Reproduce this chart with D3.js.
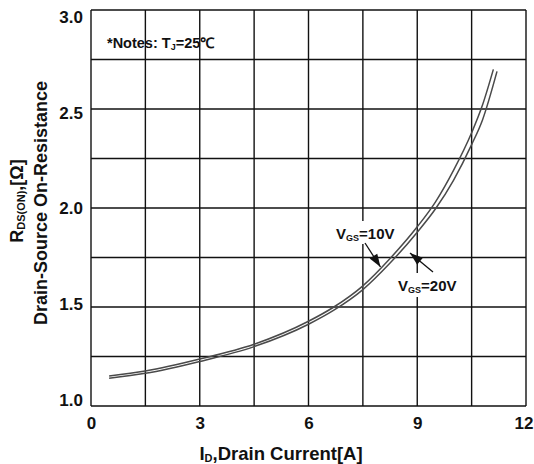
<!DOCTYPE html>
<html><head><meta charset="utf-8">
<script src="https://cdn.jsdelivr.net/npm/d3@7"></script>
<style>
body{margin:0;background:#fff}
svg{display:block}
text{font-family:"Liberation Sans",Arial,Helvetica,sans-serif;font-weight:bold;fill:#111}
</style>
</head><body>
<svg id="c" width="534" height="464"></svg>
<script>
// ---- data ----
const current10 = [0.5, 1.5, 3, 4.5, 6, 6.7, 7.5, 8.25, 9, 9.5, 10, 10.5, 10.8, 11.1];
const rds10     = [1.152, 1.177, 1.237, 1.312, 1.428, 1.5, 1.607, 1.745, 1.905, 2.03, 2.19, 2.38, 2.52, 2.70];
const current20 = [0.5, 1.5, 3, 4.5, 6, 6.7, 7.5, 8.25, 9, 9.5, 10, 10.5, 10.8, 11.2];
const rds20     = [1.140, 1.165, 1.225, 1.300, 1.413, 1.484, 1.588, 1.722, 1.878, 1.995, 2.14, 2.32, 2.445, 2.69];
const xTicks = [0, 3, 6, 9, 12];
const yTicks = [1.0, 1.5, 2.0, 2.5, 3.0];
const xGrid = [0, 1.5, 3, 4.5, 6, 7.5, 9, 10.5, 12];
const yGrid = [1.0, 1.25, 1.5, 1.75, 2.0, 2.25, 2.5, 2.75, 3.0];

const svg = d3.select('#c');
const L = 91, R = 526, T = 10, B = 406;
const x = d3.scaleLinear().domain([0, 12]).range([L, R]);
const y = d3.scaleLinear().domain([1, 3]).range([B, T]);
// tick labels in the reference sit between the top and bottom borders
const yLab = d3.scaleLinear().domain([1, 3]).range([400, 17]);

// grid
const g = svg.append('g');
g.selectAll('line.v').data(xGrid).join('line')
  .attr('x1', d => x(d)).attr('x2', d => x(d)).attr('y1', T).attr('y2', B)
  .attr('stroke', '#111').attr('stroke-width', 1.4);
g.selectAll('line.h').data(yGrid).join('line')
  .attr('y1', d => y(d)).attr('y2', d => y(d)).attr('x1', L).attr('x2', R)
  .attr('stroke', '#111').attr('stroke-width', 1.4);

// axes labels via d3 axes (no tick lines)
const xAxis = svg.append('g').attr('transform', `translate(0,${B})`)
  .call(d3.axisBottom(x).tickValues(xTicks).tickSize(0).tickPadding(11).tickFormat(d3.format('d')));
xAxis.select('.domain').remove();
xAxis.selectAll('text').attr('font-size', 17).attr('font-family', null).attr('fill', '#111')
  .attr('dx', d => d === 12 ? -2.5 : 0);

const yAxis = svg.append('g').attr('transform', `translate(83,0)`)
  .call(d3.axisLeft(yLab).tickValues(yTicks).tickSize(0).tickPadding(0).tickFormat(d3.format('.1f')));
yAxis.select('.domain').remove();
yAxis.selectAll('text').attr('font-size', 17).attr('font-family', null).attr('fill', '#111');

// label backgrounds
svg.append('rect').attr('x', 333).attr('y', 221).attr('width', 65).attr('height', 23).attr('fill', '#fff');
svg.append('rect').attr('x', 396).attr('y', 273).attr('width', 63).attr('height', 24).attr('fill', '#fff');

// curves
const line = d3.line().x(d => x(d[0])).y(d => y(d[1])).curve(d3.curveMonotoneX);
const s10 = current10.map((c, i) => [c, rds10[i]]);
const s20 = current20.map((c, i) => [c, rds20[i]]);
[s10, s20].forEach(s => {
  svg.append('path').attr('d', line(s)).attr('fill', 'none')
    .attr('stroke', '#4a4a4a').attr('stroke-width', 1.5);
});

// arrows
function arrow(x1, y1, x2, y2) {
  svg.append('line').attr('x1', x1).attr('y1', y1).attr('x2', x2).attr('y2', y2)
    .attr('stroke', '#111').attr('stroke-width', 1.3);
  const a = Math.atan2(y2 - y1, x2 - x1), len = 13, w = 4.5;
  const bx = x2 - len * Math.cos(a), by = y2 - len * Math.sin(a);
  const px = -Math.sin(a) * w, py = Math.cos(a) * w;
  svg.append('path').attr('d', `M${x2},${y2}L${bx + px},${by + py}L${bx - px},${by - py}Z`).attr('fill', '#111');
}
arrow(365, 243, 380.5, 267);
arrow(433, 272, 410, 253);

// series labels
function vgs(xp, yp, val) {
  const t = svg.append('text').attr('x', xp).attr('y', yp).attr('font-size', 15);
  t.append('tspan').text('V');
  t.append('tspan').attr('font-size', 9).attr('dy', 2).text('GS');
  t.append('tspan').attr('dy', -2).text('=' + val);
}
vgs(336, 239, '10V');
vgs(398, 291, '20V');

// notes
const nt = svg.append('text').attr('x', 107).attr('y', 48).attr('font-size', 14.5);
nt.append('tspan').text('*Notes: T');
nt.append('tspan').attr('font-size', 9).attr('dy', 2).text('J');
nt.append('tspan').attr('dy', -2).text('=25℃');

// axis titles
const xt = svg.append('text').attr('x', 281).attr('y', 460).attr('text-anchor', 'middle').attr('font-size', 18.5);
xt.append('tspan').text('I');
xt.append('tspan').attr('font-size', 11).attr('dy', 2).text('D');
xt.append('tspan').attr('dy', -2).text(',Drain Current[A]');

const yt1 = svg.append('text').attr('transform', 'translate(23,201) rotate(-90)').attr('text-anchor', 'middle').attr('font-size', 18);
yt1.append('tspan').text('R');
yt1.append('tspan').attr('font-size', 11).attr('dy', 2).text('DS(ON)');
yt1.append('tspan').attr('dy', -2).text(',[Ω]');
svg.append('text').attr('transform', 'translate(46.5,203) rotate(-90)').attr('text-anchor', 'middle').attr('font-size', 18)
  .text('Drain-Source On-Resistance');
</script>
</body></html>
